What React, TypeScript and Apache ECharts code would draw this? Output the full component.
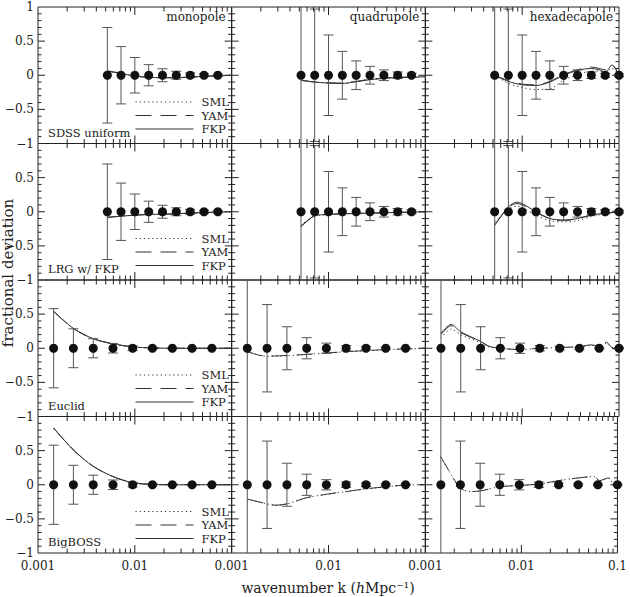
import React, { useEffect, useRef } from "react";
import * as echarts from "echarts";

// ---------- data ----------
const kSDSS = [0.0052, 0.0072, 0.01, 0.0139, 0.0193, 0.0268, 0.0373, 0.0518, 0.072, 0.1];
const kDeep = [0.00145, 0.00232, 0.00372, 0.00595, 0.0095, 0.0152, 0.0244, 0.039, 0.0625, 0.1];
const ptsZero = [0, 0, 0, 0, 0, 0, 0, 0, 0, 0];

const errSDSSMono = [0.7, 0.42, 0.26, 0.155, 0.095, 0.058, 0.035, 0.022, 0.015, 0.01];
const errSDSSMulti = [3, 0.97, 0.59, 0.35, 0.21, 0.13, 0.078, 0.048, 0.03, 0.02];
const errDeepMono = [0.58, 0.285, 0.14, 0.07, 0.035, 0.016, 0.01, 0.008, 0.006, 0.005];
const errDeepMulti = [3, 0.64, 0.315, 0.155, 0.075, 0.04, 0.025, 0.015, 0.01, 0.008];

// Row 1: SDSS uniform
const r1MonoK = kSDSS;
const r1MonoSML = [0.06, 0.03, -0.01, -0.03, -0.035, -0.035, -0.025, -0.015, -0.008, 0];
const r1MonoYAM = [0.065, 0.03, -0.01, -0.03, -0.035, -0.035, -0.025, -0.015, -0.008, 0];
const r1MonoFKP = [0.06, 0.025, -0.012, -0.03, -0.036, -0.037, -0.028, -0.015, -0.008, 0];
const r1QuadK = kSDSS;
const r1QuadSML = [-0.07, -0.1, -0.11, -0.12, -0.09, -0.06, -0.045, -0.03, -0.03, -0.02];
const r1QuadYAM = [-0.07, -0.1, -0.11, -0.115, -0.09, -0.06, -0.045, -0.03, -0.028, -0.02];
const r1QuadFKP = [-0.075, -0.1, -0.115, -0.12, -0.095, -0.065, -0.045, -0.032, -0.03, -0.02];
const r1HexK = [0.0052, 0.0072, 0.01, 0.0139, 0.0193, 0.0268, 0.0373, 0.0518, 0.062, 0.072, 0.085, 0.1];
const r1HexSML = [0, -0.12, -0.18, -0.21, -0.2, -0.07, 0.01, 0.06, 0.06, 0.05, 0.1, 0];
const r1HexYAM = [0, -0.08, -0.13, -0.14, -0.09, 0.01, 0.08, 0.12, 0.1, 0.08, 0.14, 0];
const r1HexFKP = [0, -0.09, -0.14, -0.15, -0.1, 0, 0.07, 0.1, 0.08, 0.05, 0.15, 0];

// Row 2: LRG w/ FKP
const r2MonoK = kSDSS;
const r2MonoSML = [-0.08, -0.065, -0.05, -0.04, -0.035, -0.03, -0.02, -0.012, -0.006, 0];
const r2MonoYAM = [-0.08, -0.065, -0.05, -0.04, -0.035, -0.03, -0.02, -0.012, -0.006, 0];
const r2MonoFKP = [-0.085, -0.065, -0.05, -0.04, -0.035, -0.03, -0.02, -0.012, -0.006, 0];
const r2QuadK = kSDSS;
const r2QuadSML = [-0.2, -0.06, -0.04, -0.03, -0.025, -0.02, -0.015, -0.01, -0.005, 0];
const r2QuadYAM = [-0.21, -0.06, -0.04, -0.03, -0.025, -0.02, -0.015, -0.01, -0.005, 0];
const r2QuadFKP = [-0.22, -0.06, -0.04, -0.03, -0.025, -0.02, -0.015, -0.01, -0.005, 0];
const r2HexK = [0.0052, 0.0072, 0.0088, 0.01, 0.0139, 0.0193, 0.0268, 0.0373, 0.0518, 0.072, 0.1];
const r2HexSML = [-0.15, 0.04, 0.08, 0.06, -0.05, -0.13, -0.15, -0.13, -0.07, -0.03, 0];
const r2HexYAM = [-0.19, 0.06, 0.12, 0.1, -0.01, -0.1, -0.13, -0.1, -0.05, -0.02, 0];
const r2HexFKP = [-0.2, 0.07, 0.14, 0.12, 0, -0.1, -0.12, -0.1, -0.05, -0.02, 0];

// Row 3: Euclid
const r3MonoK = kDeep;
const r3MonoSML = [0.54, 0.29, 0.14, 0.065, 0.02, 0.005, 0, 0, 0, 0];
const r3MonoYAM = [0.54, 0.29, 0.14, 0.065, 0.02, 0.005, 0, 0, 0, 0];
const r3MonoFKP = [0.54, 0.29, 0.14, 0.065, 0.02, 0.005, 0, 0, 0, 0];
const r3QuadK = [0.00145, 0.0019, 0.00232, 0.00372, 0.00595, 0.0095, 0.0152, 0.0244, 0.039, 0.0625, 0.1];
const r3QuadSML = [-0.05, -0.1, -0.12, -0.11, -0.09, -0.07, -0.05, -0.035, -0.02, -0.01, 0];
const r3QuadYAM = [-0.05, -0.1, -0.115, -0.105, -0.09, -0.07, -0.05, -0.035, -0.02, -0.01, 0];
const r3QuadFKP: number[] = [];
const r3HexK = [0.00145, 0.00185, 0.00232, 0.00372, 0.0045, 0.00595, 0.0095, 0.0152, 0.0244, 0.039, 0.0512, 0.0633, 0.0735, 0.0886, 0.1];
const r3HexSML = [0.15, 0.28, 0.2, 0.08, 0.02, 0, -0.02, 0, 0.01, 0.02, 0.04, 0.03, 0.07, 0, 0];
const r3HexYAM = [0.2, 0.33, 0.23, 0.1, 0.03, 0, -0.02, 0, 0.01, 0.025, 0.05, 0.03, 0.09, -0.01, 0];
const r3HexFKP = [0.22, 0.35, 0.24, 0.1, 0.03];

// Row 4: BigBOSS
const r4MonoK = kDeep;
const r4MonoSML = [0.83, 0.51, 0.27, 0.12, 0.03, 0.005, 0, 0, 0, 0];
const r4MonoYAM = [0.83, 0.51, 0.27, 0.12, 0.03, 0.005, 0, 0, 0, 0];
const r4MonoFKP = [0.83, 0.51, 0.27, 0.12, 0.03, 0.005, 0, 0, 0, 0];
const r4QuadK = [0.00145, 0.00232, 0.0028, 0.00372, 0.00595, 0.0095, 0.0152, 0.0244, 0.039, 0.0625, 0.1];
const r4QuadSML = [-0.21, -0.28, -0.3, -0.28, -0.19, -0.14, -0.1, -0.06, -0.03, -0.005, 0];
const r4QuadYAM = [-0.21, -0.28, -0.3, -0.28, -0.19, -0.14, -0.1, -0.06, -0.03, -0.005, 0];
const r4QuadFKP: number[] = [];
const r4HexK = [0.00145, 0.00195, 0.00232, 0.00292, 0.00372, 0.00595, 0.0095, 0.0152, 0.0244, 0.039, 0.0577, 0.065, 0.0805, 0.0906, 0.1];
const r4HexSML = [0.41, 0.1, -0.05, -0.1, -0.09, -0.03, -0.01, 0.01, 0.06, 0.1, 0.12, 0.06, 0.1, 0.01, 0];
const r4HexYAM = [0.41, 0.1, -0.05, -0.1, -0.09, -0.03, -0.01, 0.01, 0.06, 0.1, 0.12, 0.06, 0.1, 0.01, 0];
const r4HexFKP: number[] = [];

const surveyNames = ["SDSS uniform", "LRG w/ FKP", "Euclid", "BigBOSS"];
const multipoleNames = ["monopole", "quadrupole", "hexadecapole"];
const lineNames = ["SML", "YAM", "FKP"];
const xTickLabels = ["0.001", "0.01", "0.1"];
const yTickValues = [-1, -0.5, 0, 0.5, 1];
const pointsShown = [9, 9, 10];

const curves = [
  [
    [r1MonoK, r1MonoSML, r1MonoYAM, r1MonoFKP],
    [r1QuadK, r1QuadSML, r1QuadYAM, r1QuadFKP],
    [r1HexK, r1HexSML, r1HexYAM, r1HexFKP],
  ],
  [
    [r2MonoK, r2MonoSML, r2MonoYAM, r2MonoFKP],
    [r2QuadK, r2QuadSML, r2QuadYAM, r2QuadFKP],
    [r2HexK, r2HexSML, r2HexYAM, r2HexFKP],
  ],
  [
    [r3MonoK, r3MonoSML, r3MonoYAM, r3MonoFKP],
    [r3QuadK, r3QuadSML, r3QuadYAM, r3QuadFKP],
    [r3HexK, r3HexSML, r3HexYAM, r3HexFKP],
  ],
  [
    [r4MonoK, r4MonoSML, r4MonoYAM, r4MonoFKP],
    [r4QuadK, r4QuadSML, r4QuadYAM, r4QuadFKP],
    [r4HexK, r4HexSML, r4HexYAM, r4HexFKP],
  ],
];
const rowPointK = [kSDSS, kSDSS, kDeep, kDeep];
const rowErrMono = [errSDSSMono, errSDSSMono, errDeepMono, errDeepMono];
const rowErrMulti = [errSDSSMulti, errSDSSMulti, errDeepMulti, errDeepMulti];

// ---------- layout / style ----------
const FONT = "DejaVu Serif";
const GL = 38;
const GT = 7;
const PW = 193.67;
const PH = 136.5;
const FRAME = "#222";
const CURVE = "#333";
const ERR = "#555";
const DASHES = [[1.2, 3], [16, 9], "solid"];

const errRender = (params: any, api: any) => {
  const k = api.value(0);
  const y = api.value(1);
  const e = api.value(2);
  const cs = params.coordSys;
  const top = api.coord([k, y + e]);
  const bot = api.coord([k, y - e]);
  const x = top[0];
  const y1 = Math.max(top[1], cs.y);
  const y2 = Math.min(bot[1], cs.y + cs.height);
  const style = { stroke: ERR, lineWidth: 1 };
  const children: any[] = [{ type: "line", shape: { x1: x, y1, x2: x, y2 }, style }];
  const cap = 5;
  if (top[1] >= cs.y) children.push({ type: "line", shape: { x1: x - cap, y1: top[1], x2: x + cap, y2: top[1] }, style });
  if (bot[1] <= cs.y + cs.height) children.push({ type: "line", shape: { x1: x - cap, y1: bot[1], x2: x + cap, y2: bot[1] }, style });
  return { type: "group", children };
};

const tickRender = (params: any, api: any) => {
  const p = api.coord([api.value(0), api.value(1)]);
  const len = api.value(2);
  const side = api.value(3);
  let x2 = p[0];
  let y2 = p[1];
  if (side === 0) y2 -= len;
  else if (side === 1) y2 += len;
  else if (side === 2) x2 += len;
  else x2 -= len;
  return { type: "line", shape: { x1: p[0], y1: p[1], x2, y2 }, style: { stroke: FRAME, lineWidth: 1 } };
};

function buildTicks() {
  const data: number[][] = [];
  const decades = [0.001, 0.01];
  decades.forEach((d) => {
    for (let m = 2; m <= 9; m++) {
      const k = d * m;
      data.push([k, -1, 4.5, 0], [k, 1, 4.5, 1]);
    }
  });
  data.push([0.01, -1, 8, 0], [0.01, 1, 8, 1]);
  for (let i = -9; i <= 9; i++) {
    const y = i / 10;
    const major = i % 5 === 0;
    const len = major ? 7 : 3.5;
    data.push([0.001, y, len, 2], [0.1, y, len, 3]);
  }
  return data;
}

function buildOption() {
  const grid: any[] = [];
  const xAxis: any[] = [];
  const yAxis: any[] = [];
  const series: any[] = [];
  const legend: any[] = [];
  const graphic: any[] = [];
  const ticks = buildTicks();

  for (let r = 0; r < 4; r++) {
    const rowTop = GT + r * PH;
    for (let c = 0; c < 3; c++) {
      const idx = r * 3 + c;
      grid.push({
        left: GL + c * PW,
        top: rowTop,
        width: PW,
        height: PH,
        show: true,
        borderColor: FRAME,
        borderWidth: 1,
        backgroundColor: "transparent",
      });
      xAxis.push({
        type: "log",
        logBase: 10,
        min: 0.001,
        max: 0.1,
        gridIndex: idx,
        axisLine: { show: false },
        axisTick: { show: false },
        splitLine: { show: false },
        axisLabel: {
          show: r === 3,
          margin: 7,
          fontFamily: FONT,
          fontSize: 12,
          color: "#222",
          formatter: (v: number) => {
            const s = v < 0.005 ? xTickLabels[0] : v < 0.05 ? xTickLabels[1] : xTickLabels[2];
            if (s === xTickLabels[2] && c < 2) return "";
            return s;
          },
        },
      });
      yAxis.push({
        type: "value",
        min: yTickValues[0],
        max: yTickValues[yTickValues.length - 1],
        interval: 0.5,
        gridIndex: idx,
        axisLine: { show: false },
        axisTick: { show: false },
        splitLine: { show: false },
        axisLabel: {
          show: c === 0,
          margin: 4,
          fontFamily: FONT,
          fontSize: 12,
          color: "#222",
          formatter: (v: number) => {
            if (v === 1 && r > 0) return "";
            if (v === 0) return "0";
            return v < 0 ? "\u2212" + String(-v) : String(v);
          },
        },
      });

      const [ck, ...vals] = curves[r][c];
      vals.forEach((vs: number[], li: number) => {
        series.push({
          type: "line",
          name: lineNames[li],
          xAxisIndex: idx,
          yAxisIndex: idx,
          data: vs.map((v: number, i: number) => [ck[i], v]),
          symbol: "none",
          smooth: 0.3,
          color: CURVE,
          lineStyle: { width: 1, color: CURVE, type: DASHES[li] },
          silent: true,
          z: 2,
        });
      });

      const n = pointsShown[c];
      const pk = rowPointK[r].slice(0, n);
      const errs = (c === 0 ? rowErrMono[r] : rowErrMulti[r]).slice(0, n);
      series.push({
        type: "custom",
        name: "err",
        xAxisIndex: idx,
        yAxisIndex: idx,
        renderItem: errRender,
        encode: { x: 0, y: 1 },
        data: pk.map((k: number, i: number) => [k, ptsZero[i], errs[i]]),
        silent: true,
        z: 3,
      });
      series.push({
        type: "scatter",
        name: "points",
        xAxisIndex: idx,
        yAxisIndex: idx,
        data: pk.map((k: number, i: number) => [k, ptsZero[i]]),
        symbol: "circle",
        symbolSize: 9,
        itemStyle: { color: "#111", opacity: 1 },
        clip: false,
        silent: true,
        z: 4,
      });
      series.push({
        type: "custom",
        name: "ticks",
        xAxisIndex: idx,
        yAxisIndex: idx,
        renderItem: tickRender,
        encode: { x: 0, y: 1 },
        data: ticks,
        silent: true,
        z: 5,
      });

      if (r === 0) {
        graphic.push({
          type: "text",
          x: GL + (c + 1) * PW - 6,
          y: rowTop + 10,
          style: {
            text: multipoleNames[c],
            font: `12px "${FONT}"`,
            fill: "#222",
            textAlign: "right",
            textVerticalAlign: "middle",
          },
        });
      }
    }

    legend.push({
      data: lineNames,
      orient: "vertical",
      left: 135,
      top: rowTop + 89,
      itemWidth: 58,
      itemHeight: 12,
      itemGap: 1.5,
      padding: 0,
      selectedMode: false,
      itemStyle: { opacity: 0, borderWidth: 0 },
      lineStyle: { width: 1 },
      textStyle: { fontFamily: FONT, fontSize: 11.5, color: "#222", lineHeight: 12, padding: [0, 0, 0, 3] },
    });

    graphic.push({
      type: "text",
      x: 48,
      y: rowTop + PH - 11,
      style: {
        text: surveyNames[r],
        font: `11.5px "${FONT}"`,
        fill: "#222",
        textAlign: "left",
        textVerticalAlign: "middle",
      },
    });
  }

  graphic.push({
    type: "text",
    x: 8,
    y: 273,
    rotation: Math.PI / 2,
    style: {
      text: "fractional deviation",
      font: `15px "${FONT}"`,
      fill: "#222",
      textAlign: "center",
      textVerticalAlign: "middle",
    },
  });
  graphic.push({
    type: "text",
    x: 328,
    y: 588,
    style: {
      text: "wavenumber k ({i|h}Mpc\u207B\u00B9)",
      font: `14px "${FONT}"`,
      fill: "#222",
      textAlign: "center",
      textVerticalAlign: "middle",
      rich: {
        i: { fontStyle: "italic", fontFamily: FONT, fontSize: 14, fill: "#222" },
      },
    },
  });

  return {
    animation: false,
    backgroundColor: "#fff",
    grid,
    xAxis,
    yAxis,
    legend,
    series,
    graphic,
  };
}

export default function App() {
  const ref = useRef<HTMLDivElement>(null);
  useEffect(() => {
    if (!ref.current) return;
    const chart = echarts.init(ref.current, null, { renderer: "svg" });
    chart.setOption(buildOption() as any);
    return () => chart.dispose();
  }, []);
  return <div ref={ref} style={{ position: "fixed", left: 0, top: 0, width: 630, height: 597 }} />;
}
